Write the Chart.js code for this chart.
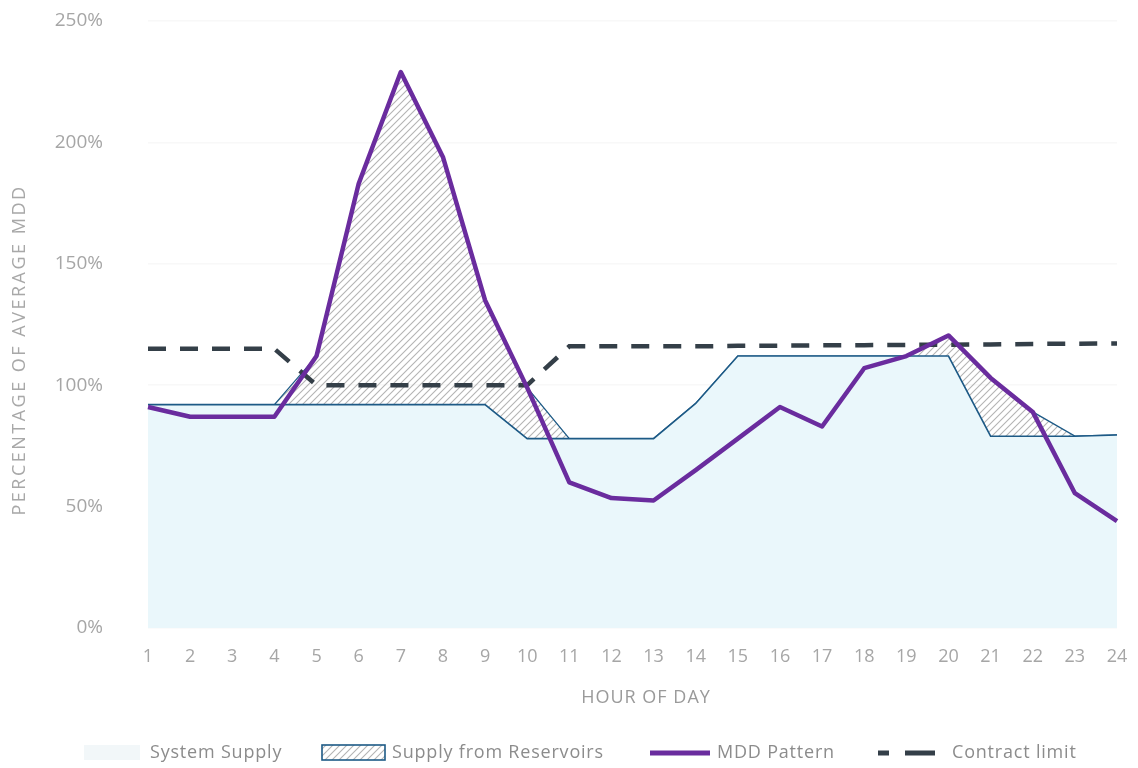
<!DOCTYPE html>
<html>
<head>
<meta charset="utf-8">
<script src="https://cdn.jsdelivr.net/npm/chart.js@4/dist/chart.umd.min.js"></script>
<style>
  html, body { margin: 0; padding: 0; background: #fff; }
  #wrap { width: 1138px; height: 768px; position: relative; }
</style>
</head>
<body>
<div id="wrap"><canvas id="supplyChart"></canvas></div>
<script>
// Hourly demand vs. supply, % of average MDD
const hours = ['1','2','3','4','5','6','7','8','9','10','11','12','13','14','15','16','17','18','19','20','21','22','23','24'];
const systemSupply = [92, 92, 92, 92, 92, 92, 92, 92, 92, 78, 78, 78, 78, 92.5, 112, 112, 112, 112, 112, 112, 79, 79, 79, 79.5];
const reservoirSupply = [0, 0, 0, 0, 20, 91, 137, 102, 43, 21, 0, 0, 0, 0, 0, 0, 0, 0, 0, 8.5, 24, 10, 0, 0];
const mddPattern = [91, 87, 87, 87, 112, 183, 229, 194, 135, 99, 60, 53.5, 52.5, 65, 78, 91, 83, 107, 112, 120.5, 103, 89, 55.5, 44];
const contractLimit = [115, 115, 115, 115, 100, 100, 100, 100, 100, 100, 116, 116, 116, 116, 116.2, 116.3, 116.4, 116.5, 116.6, 116.7, 116.8, 117, 117.1, 117.2];

const FONT = "'Open Sans', sans-serif";
const GREY = '#a6a6a6';
const TEXT = '#8c8c8c';
const BLUE_FILL = '#eaf7fb';
const BLUE_LINE = '#1d5a86';
const PURPLE = '#6a2c9e';
const DASH = '#343f48';

// diagonal hatch used for the reservoir band
function makeHatch() {
    const c = document.createElement('canvas');
    c.width = 7; c.height = 7;
    const g = c.getContext('2d');
    g.strokeStyle = '#b4b4b4';
    g.lineWidth = 1.1;
    g.beginPath();
    g.moveTo(0, 7); g.lineTo(7, 0);
    g.moveTo(-1, 1); g.lineTo(1, -1);
    g.moveTo(6, 8); g.lineTo(8, 6);
    g.stroke();
    return g.createPattern(c, 'repeat');
}
const hatch = makeHatch();

// axis titles and legend, drawn with a bit of letter spacing
const chartText = {
    id: 'chartText',
    afterDraw(chart) {
        const ctx = chart.ctx;
        const y = 753;
        ctx.save();

        // axis titles
        ctx.fillStyle = '#9a9a9a';
        ctx.textAlign = 'center';
        ctx.textBaseline = 'middle';
        ctx.font = '18px ' + FONT;
        ctx.letterSpacing = '1px';
        ctx.fillText('HOUR OF DAY', 646, 698);

        ctx.save();
        ctx.translate(20, 350);
        ctx.rotate(-Math.PI / 2);
        ctx.fillStyle = '#a8a8a8';
        ctx.letterSpacing = '2.5px';
        ctx.fillText('PERCENTAGE OF AVERAGE MDD', 0, 0);
        ctx.restore();

        // legend
        ctx.textAlign = 'left';
        ctx.letterSpacing = '0.8px';

        ctx.fillStyle = '#f2f7f9';
        ctx.fillRect(84, 745, 56, 15);
        ctx.fillStyle = TEXT;
        ctx.fillText('System Supply', 150, y);

        ctx.fillStyle = hatch;
        ctx.fillRect(322, 745, 63, 15);
        ctx.strokeStyle = BLUE_LINE;
        ctx.lineWidth = 1.6;
        ctx.strokeRect(322, 745, 63, 15);
        ctx.fillStyle = TEXT;
        ctx.fillText('Supply from Reservoirs', 392, y);

        ctx.strokeStyle = PURPLE;
        ctx.lineWidth = 5;
        ctx.beginPath();
        ctx.moveTo(650, y); ctx.lineTo(710, y);
        ctx.stroke();
        ctx.fillText('MDD Pattern', 717, y);

        ctx.strokeStyle = DASH;
        ctx.lineWidth = 5;
        ctx.beginPath();
        ctx.moveTo(878, y); ctx.lineTo(889, y);
        ctx.moveTo(905, y); ctx.lineTo(935, y);
        ctx.stroke();
        ctx.fillText('Contract limit', 952, y);
        ctx.restore();
    }
};

const ctx = document.getElementById('supplyChart').getContext('2d');
new Chart(ctx, {
    type: 'line',
    data: {
        labels: hours,
        datasets: [
            {
                label: 'System Supply',
                data: systemSupply,
                stack: 'supply',
                fill: 'origin',
                backgroundColor: BLUE_FILL,
                borderColor: BLUE_LINE,
                borderWidth: 1.6,
                pointRadius: 0,
                tension: 0
            },
            {
                label: 'Supply from Reservoirs',
                data: reservoirSupply,
                stack: 'supply',
                fill: '-1',
                backgroundColor: hatch,
                borderColor: BLUE_LINE,
                borderWidth: 1.3,
                pointRadius: 0,
                tension: 0
            },
            {
                label: 'MDD Pattern',
                data: mddPattern,
                stack: 'mdd',
                fill: false,
                borderColor: PURPLE,
                borderWidth: 4.5,
                borderJoinStyle: 'round',
                pointRadius: 0,
                tension: 0,
                order: -2
            },
            {
                label: 'Contract limit',
                data: contractLimit,
                stack: 'contract',
                fill: false,
                borderColor: DASH,
                borderWidth: 4.5,
                borderDash: [18, 14],
                pointRadius: 0,
                tension: 0,
                order: -1
            }
        ]
    },
    options: {
        responsive: true,
        maintainAspectRatio: false,
        animation: false,
        layout: { padding: { left: 0, right: 21, top: 21, bottom: 50 } },
        plugins: {
            legend: { display: false },
            tooltip: { enabled: false }
        },
        scales: {
            x: {
                offset: false,
                grid: { display: false, drawTicks: true, tickLength: 15, tickColor: 'transparent' },
                border: { display: false },
                ticks: {
                    color: GREY,
                    font: { family: FONT, size: 18 },
                    padding: 3,
                    maxRotation: 0,
                    autoSkip: false
                },
                afterFit(scale) { scale.height = 90; }
            },
            y: {
                stacked: true,
                min: 0,
                max: 250,
                grid: { color: '#f8f8f8', drawTicks: true, tickLength: 40, tickColor: 'transparent', lineWidth: 1.5 },
                border: { display: false },
                ticks: {
                    stepSize: 50,
                    color: GREY,
                    font: { family: FONT, size: 19 },
                    padding: 5,
                    callback: v => v + '%'
                },
                afterFit(scale) { scale.width = 148; }
            }
        }
    },
    plugins: [chartText]
});
</script>
</body>
</html>
